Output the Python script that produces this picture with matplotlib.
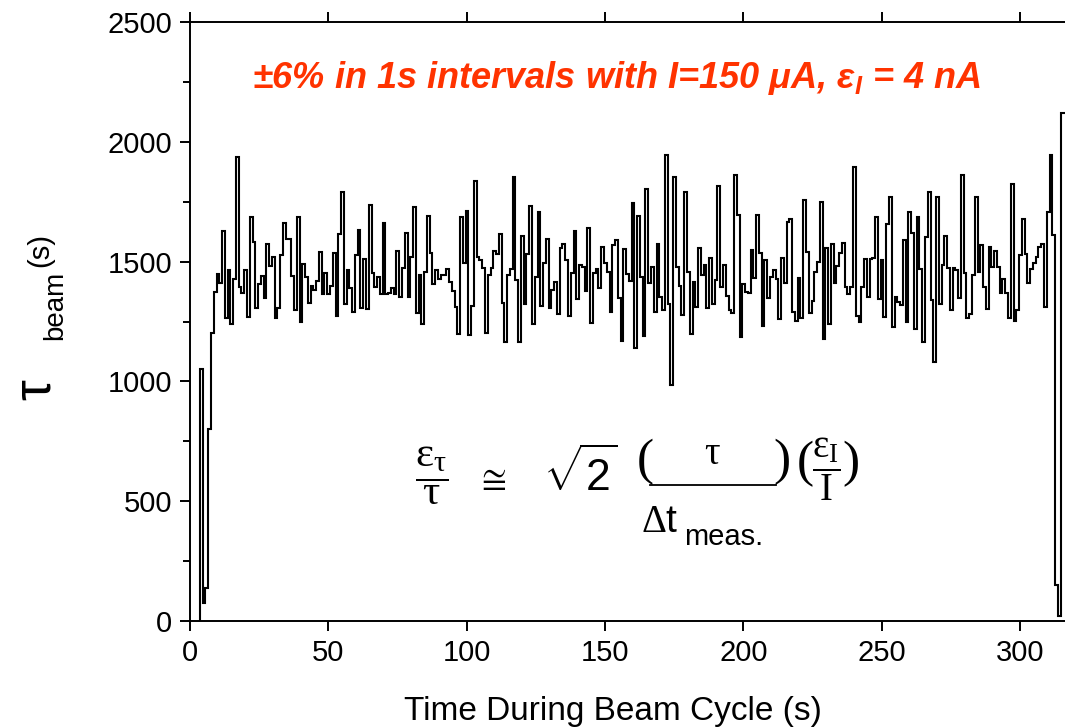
import numpy as np
import matplotlib
matplotlib.use("Agg")
import matplotlib.pyplot as plt
from matplotlib.lines import Line2D

plt.rcParams['font.family'] = ['Liberation Sans', 'DejaVu Sans']
plt.rcParams['mathtext.fontset'] = 'custom'
plt.rcParams['mathtext.rm'] = 'Liberation Serif'
plt.rcParams['mathtext.it'] = 'Liberation Sans:bold:italic'
plt.rcParams['mathtext.sf'] = 'Liberation Sans'

# beam lifetime in 1 s intervals
start_time = 3.6   # s, first measurement
interval = 1.0     # s
tau_beam = [
    1050, 76, 137, 800, 1202, 1375, 1448, 1409, 1629, 1263, 1465, 1238, 1426, 1935,
    1395, 1370, 1465, 1267, 1688, 1583, 1308, 1405, 1440, 1350, 1573, 1482, 1521, 1263,
    1305, 1528, 1662, 1594, 1594, 1440, 1298, 1685, 1249, 1490, 1434, 1329, 1400, 1381,
    1420, 1542, 1365, 1454, 1365, 1400, 1535, 1273, 1615, 1789, 1323, 1465, 1391, 1291,
    1528, 1632,
    1305, 1509, 1301, 1736, 1454, 1395, 1434, 1363, 1660, 1363, 1368, 1388, 1365, 1546,
    1351, 1472, 1618, 1354, 1521, 1727, 1287, 1444, 1238, 1458, 1691, 1535, 1406, 1465,
    1427, 1446, 1446,
    1469, 1416, 1379, 1312, 1198, 1685, 1493, 1713, 1194, 1316, 1838, 1521, 1507, 1475,
    1203, 1444, 1472, 1544, 1530, 1615, 1326, 1166, 1444, 1469, 1852, 1423, 1166, 1608,
    1322, 1530,
    1732, 1238, 1434, 1708, 1316, 1493, 1593, 1308, 1381, 1416, 1280, 1555, 1573, 1505,
    1274, 1451, 1629, 1344, 1486, 1476, 1379, 1642, 1242, 1454, 1469, 1388, 1562, 1496,
    1458, 1291, 1569,
    1590, 1347, 1170, 1551, 1448, 1420, 1743, 1138, 1691, 1437, 1191, 1802, 1409, 1479,
    1288, 1573, 1351, 1298, 1945, 1323, 985, 1852, 1479, 1398, 1277, 1792, 1458, 1198,
    1416, 1312, 1555, 1444, 1486, 1308, 1514, 1322, 1423, 1817, 1395, 1486, 1356, 1300,
    1284, 1861, 1694, 1187, 1406, 1375, 1370, 1548, 1430, 1694, 1537, 1231, 1507, 1347,
    1434, 1465, 1426, 1259, 1514,
    1412, 1667, 1678, 1288, 1252, 1430, 1263, 1757, 1542, 1284, 1335, 1458, 1498, 1750,
    1176, 1555, 1238, 1573, 1409, 1482, 1537, 1579, 1395, 1363, 1395, 1893, 1273, 1249,
    1395, 1509,
    1354, 1509, 1514, 1685, 1342, 1505, 1267, 1657, 1771, 1228, 1354, 1333, 1319, 1590,
    1249, 1708, 1621, 1219, 1685, 1469, 1166, 1604, 1792, 1340, 1082, 1771, 1323, 1486,
    1607, 1472,
    1298, 1472, 1465, 1347, 1861, 1451, 1263, 1280, 1444, 1768, 1458, 1569, 1395, 1301,
    1562, 1479, 1546, 1479, 1370, 1427, 1367, 1263, 1824, 1252, 1300, 1528, 1677, 1532,
    1409, 1468, 1493, 1521, 1562, 1573, 1309, 1708, 1945, 1611, 150, 20, 2121, 2121,
]

x_ticks = [0, 50, 100, 150, 200, 250, 300]
y_ticks = [0, 500, 1000, 1500, 2000, 2500]

edges = start_time + interval * np.arange(len(tau_beam) + 1)

W, H = 1065, 727
fig = plt.figure(figsize=(W / 100, H / 100), dpi=100)
ax = fig.add_axes([0.1784, 0.1458, 0.8216, 0.8239])

ax.stairs(tau_beam, edges, baseline=0, color='black', lw=1.5)

ax.set_xlim(0, 316.2)
ax.set_ylim(0, 2500)
ax.set_xticks(x_ticks)
ax.set_yticks(y_ticks)
ax.set_yticks(np.arange(250, 2500, 500), minor=True)
ax.spines['right'].set_visible(False)
for s in ['left', 'bottom', 'top']:
    ax.spines[s].set_linewidth(1.4)
ax.tick_params(axis='both', which='major', direction='out', length=7, width=1.4,
               labelsize=21, pad=6)
ax.tick_params(axis='x', top=True)
ax.tick_params(axis='y', which='minor', direction='out', length=5, width=1.4)

ax.set_xlabel('Time During Beam Cycle (s)', fontsize=24)
ax.xaxis.set_label_coords(0.483, -0.126)


def ftext(x, y, s, size, **kw):
    # place text by pixel position in the figure (y measured from the top)
    fig.text(x / W, 1 - y / H, s, ha='center', va='center', fontsize=size, **kw)


# y label pieces: tau, subscript "beam", unit "(s)"
ftext(36, 390, 'τ', 38, rotation=90)
ftext(55, 305, 'beam', 20, rotation=90)
ftext(40, 250, '(s)', 21, rotation=90)

ax.text(0.487, 0.906, r'±6% in 1s intervals with I=150 μA, ε$_{I}$ = 4 nA',
        transform=ax.transAxes, ha='center', va='center', fontsize=26,
        fontweight='bold', fontstyle='italic', color='#ff3300')

# formula  eps_tau/tau ~= sqrt(2) (tau / dt_meas.) (eps_I / I)
ftext(432, 476, r'$\dfrac{\mathrm{ε_τ}}{\mathrm{τ}}$', 31)
ftext(491, 479, r'$\cong$', 26)
ftext(580, 474, r'$\sqrt{\mathsf{2}}$', 32)
ftext(645, 462, '(', 37, family='Liberation Serif')
ftext(712, 455, 'τ', 28, family='Liberation Serif')
fig.add_artist(Line2D([650 / W, 776 / W], [1 - 485 / H] * 2, color='black', lw=1.3))
ftext(782, 462, ')', 37, family='Liberation Serif')
ftext(660, 522, r'$\mathrm{Δ}\mathsf{t}$', 28)
ftext(724, 537, 'meas.', 21)
ftext(805, 464, '(', 37, family='Liberation Serif')
ftext(826, 469, r'$\dfrac{\mathrm{ε_I}}{\mathrm{I}}$', 28)
ftext(851, 464, ')', 37, family='Liberation Serif')

fig.savefig('out.png', dpi=100)
